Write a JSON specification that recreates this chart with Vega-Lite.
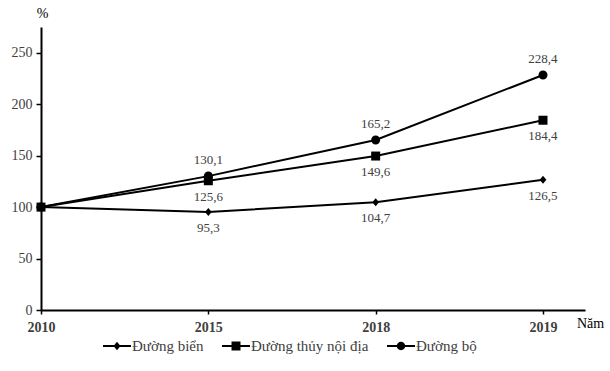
{
  "$schema": "https://vega.github.io/schema/vega-lite/v6.json",
  "width": 544,
  "height": 283,
  "autosize": "none",
  "padding": {"left": 41, "top": 27, "right": 25, "bottom": 61},
  "config": {
    "view": {"stroke": null},
    "font": "Liberation Serif",
    "locale": {"number": {"decimal": ",", "thousands": ".", "grouping": [3], "currency": ["", ""]}},
    "axis": {
      "grid": false,
      "domainColor": "black",
      "domainWidth": 2,
      "tickColor": "black",
      "tickWidth": 1.5,
      "labelFont": "Liberation Serif",
      "labelFontSize": 14,
      "labelColor": "#404040",
      "titleFont": "Liberation Serif",
      "titleFontSize": 14,
      "titleFontWeight": "normal",
      "titleColor": "black"
    }
  },
  "data": {
    "values": [
      {"year": "2010", "series": "Đường biển", "value": 100},
      {"year": "2015", "series": "Đường biển", "value": 95.3},
      {"year": "2018", "series": "Đường biển", "value": 104.7},
      {"year": "2019", "series": "Đường biển", "value": 126.5},
      {"year": "2010", "series": "Đường thủy nội địa", "value": 100},
      {"year": "2015", "series": "Đường thủy nội địa", "value": 125.6},
      {"year": "2018", "series": "Đường thủy nội địa", "value": 149.6},
      {"year": "2019", "series": "Đường thủy nội địa", "value": 184.4},
      {"year": "2010", "series": "Đường bộ", "value": 100},
      {"year": "2015", "series": "Đường bộ", "value": 130.1},
      {"year": "2018", "series": "Đường bộ", "value": 165.2},
      {"year": "2019", "series": "Đường bộ", "value": 228.4}
    ]
  },
  "encoding": {
    "x": {
      "field": "year",
      "type": "ordinal",
      "scale": {"type": "point", "domain": ["2010", "2015", "2018", "2019"], "padding": 0.1255, "align": 0},
      "axis": {
        "labelAngle": 0,
        "labelFontWeight": "bold",
        "tickSize": 4,
        "labelPadding": 6,
        "title": "Năm",
        "titleX": 549,
        "titleY": 13,
        "titleAlign": "center",
        "titleBaseline": "middle"
      }
    },
    "y": {
      "field": "value",
      "type": "quantitative",
      "scale": {"domain": [0, 275], "nice": false},
      "axis": {
        "values": [0, 50, 100, 150, 200, 250],
        "format": "d",
        "tickSize": 5,
        "labelPadding": 4,
        "title": "%",
        "titleAngle": 0,
        "titleX": 1,
        "titleY": -14,
        "titleAlign": "center",
        "titleBaseline": "middle"
      }
    }
  },
  "resolve": {"scale": {"shape": "independent"}, "legend": {"shape": "independent"}},
  "layer": [
    {
      "mark": {"type": "line", "color": "black", "strokeWidth": 2},
      "encoding": {"detail": {"field": "series"}}
    },
    {
      "mark": {"type": "point", "filled": true, "opacity": 1, "color": "black", "size": 81, "strokeWidth": 0},
      "encoding": {
        "shape": {
          "field": "series",
          "type": "nominal",
          "scale": {
            "domain": ["Đường biển", "Đường thủy nội địa", "Đường bộ"],
            "range": [
              "M0,-0.9L0.75,0L0,0.9L-0.75,0Z",
              "M-1,-1h2v2h-2Z",
              "M-1,0A1,1 0 1,1 1,0A1,1 0 1,1 -1,0Z"
            ]
          },
          "legend": null
        }
      }
    },
    {
      "mark": {"type": "point", "filled": true, "opacity": 1, "color": "black", "size": 0, "strokeWidth": 0},
      "encoding": {
        "shape": {
          "field": "series",
          "type": "nominal",
          "scale": {
            "domain": ["Đường biển", "Đường thủy nội địa", "Đường bộ"],
            "range": [
              "M-1,-0.07h2v0.14h-2Z M0,-0.3L0.25,0L0,0.3L-0.25,0Z",
              "M-1,-0.07h2v0.14h-2Z M-0.32,-0.32h0.64v0.64h-0.64Z",
              "M-1,-0.07h2v0.14h-2Z M-0.3,0A0.3,0.3 0 1,1 0.3,0A0.3,0.3 0 1,1 -0.3,0Z"
            ]
          },
          "legend": {
            "title": null,
            "orient": "none",
            "legendX": 62,
            "legendY": 305,
            "direction": "horizontal",
            "symbolSize": 784,
            "symbolFillColor": "black",
            "symbolStrokeWidth": 0,
            "symbolOpacity": 1,
            "labelFont": "Liberation Serif",
            "labelFontSize": 15,
            "labelColor": "#404040",
            "labelOffset": 1,
            "columnPadding": 18
          }
        }
      }
    },
    {
      "transform": [{"filter": "datum.series === 'Đường bộ' && datum.year !== '2010'"}],
      "mark": {"type": "text", "fontSize": 13, "color": "#404040", "baseline": "middle", "dy": -16},
      "encoding": {"text": {"field": "value", "type": "quantitative", "format": ".1f"}}
    },
    {
      "transform": [{"filter": "datum.series !== 'Đường bộ' && datum.year !== '2010'"}],
      "mark": {"type": "text", "fontSize": 13, "color": "#404040", "baseline": "middle", "dy": 16},
      "encoding": {"text": {"field": "value", "type": "quantitative", "format": ".1f"}}
    },
    {
      "data": {"values": [{"arrow": "y"}]},
      "mark": {"type": "point", "filled": true, "opacity": 1, "color": "black", "strokeWidth": 0, "size": 100, "shape": "M0,0L0.6,1.6L-0.6,1.6Z"},
      "encoding": {
        "x": {"datum": "2010", "type": "ordinal"},
        "y": {"datum": 275, "type": "quantitative"}
      }
    },
    {
      "data": {"values": [{"arrow": "x"}]},
      "mark": {"type": "point", "filled": true, "opacity": 1, "color": "black", "strokeWidth": 0, "size": 100, "shape": "M0,0L-1.6,-0.6L-1.6,0.6Z"},
      "encoding": {
        "x": {"value": {"expr": "width"}},
        "y": {"datum": 0, "type": "quantitative"}
      }
    }
  ]
}
